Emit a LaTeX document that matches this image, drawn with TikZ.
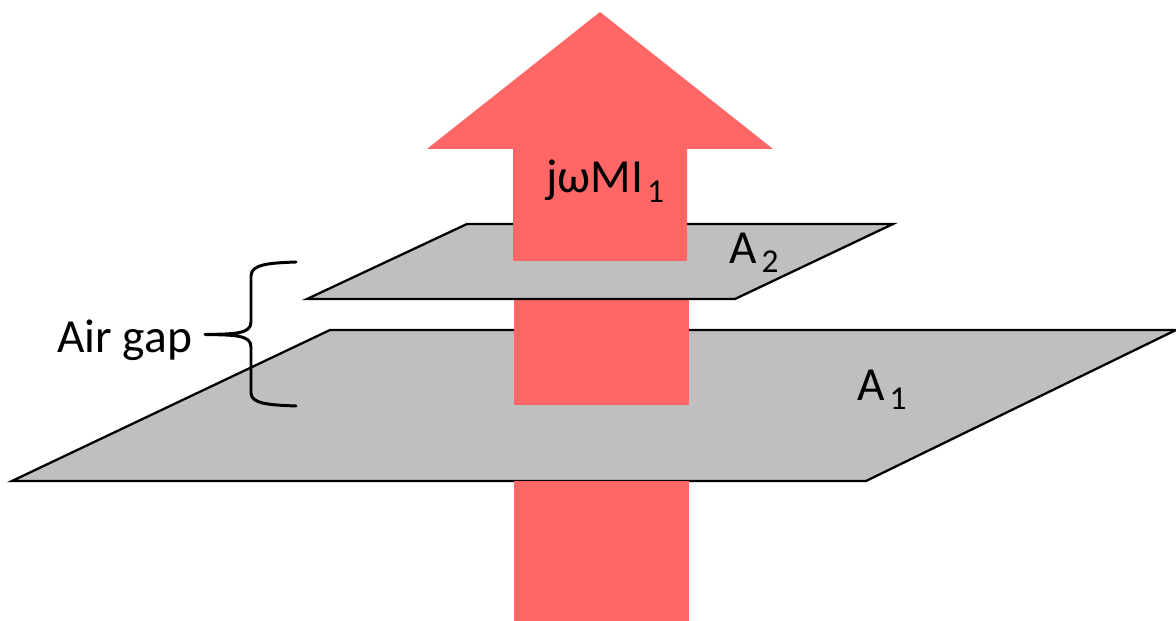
\documentclass[tikz,border=0pt]{standalone}
\usepackage{fontspec}
\setmainfont{Carlito}
\definecolor{fluxred}{HTML}{FF6666}
\definecolor{plategray}{HTML}{BFBFBF}
\newcommand{\lowsub}[1]{\raisebox{-0.2em}{\fontsize{19}{19}\selectfont #1}}
\tikzset{
    plate/.style={fill=plategray, draw=black, line width=1.3pt, line join=miter},
    flux/.style={fill=fluxred, draw=none},
    lbl/.style={font=\fontsize{27}{27}\selectfont, inner sep=0pt, anchor=west}
}
\begin{document}
\begin{tikzpicture}
    \useasboundingbox (0,0) rectangle (23.52,12.42);

    % Piastra A1
    \draw[plate] (6.60,5.82) -- (23.52,5.82) -- (17.32,2.80) -- (0.24,2.80) -- cycle;

    % Freccia, parte bassa e parte media
    \fill[flux] (10.28,0) rectangle (13.78,2.80);
    \fill[flux] (10.28,4.32) rectangle (13.78,6.44);

    % Piastra A2
    \draw[plate] (9.34,7.94) -- (17.86,7.94) -- (14.70,6.44) -- (6.14,6.44) -- cycle;

    % Freccia, parte alta
    \fill[flux] (10.26,7.20) -- (10.26,9.44) -- (8.54,9.44) -- (12.00,12.18)
        -- (15.46,9.44) -- (13.74,9.44) -- (13.74,7.20) -- cycle;

    % Graffa
    \draw[line width=1.7pt, line cap=round, line join=round] (5.92,7.18) .. controls (5.40,7.16) and (5.02,7.14) .. (5.02,6.90)
        -- (5.02,5.98) .. controls (5.02,5.74) and (4.70,5.74) .. (4.10,5.73)
        .. controls (4.70,5.72) and (5.02,5.72) .. (5.02,5.48)
        -- (5.02,4.56) .. controls (5.02,4.34) and (5.40,4.32) .. (5.92,4.30);

    % Etichette
    \node[lbl] (airgap) at (1.14,5.62) {Air gap};
    \node[lbl] (fluxlbl) at (10.92,8.80) {jωMI\kern0.08em\lowsub{1}};
    \node[lbl] (aonelbl) at (17.14,4.62) {A\kern0.1em\lowsub{1}};
    \node[lbl] (atwolbl) at (14.58,7.36) {A\kern0.1em\lowsub{2}};
\end{tikzpicture}
\end{document}
